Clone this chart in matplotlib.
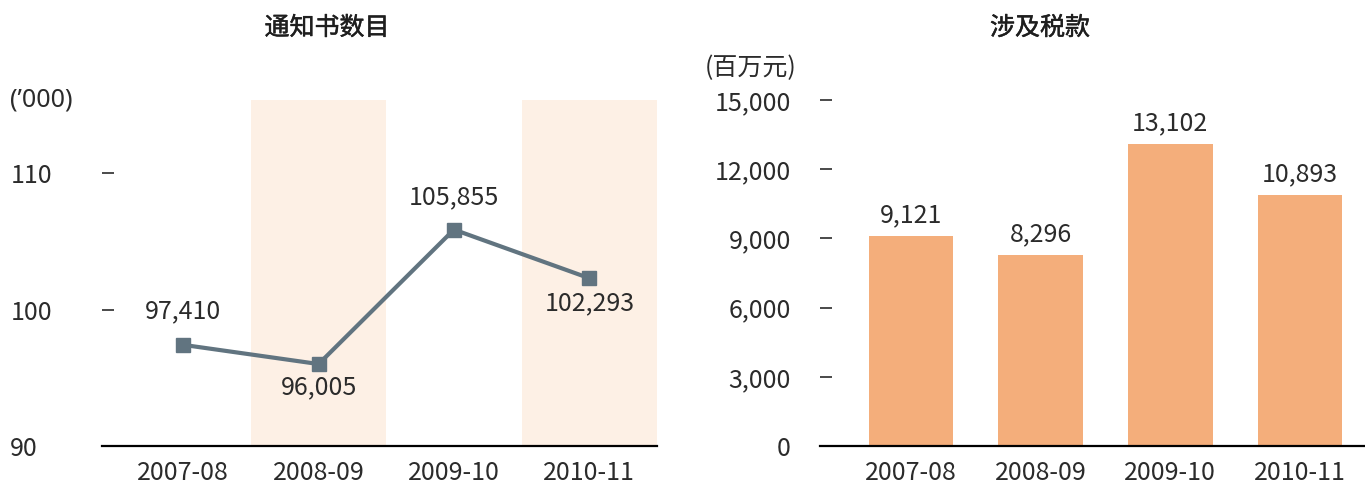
import numpy as np
import matplotlib.pyplot as plt
import matplotlib.patheffects as pe

plt.rcParams['font.family'] = ['Noto Sans CJK SC', 'DejaVu Sans']

#dati
anni = ['2007-08', '2008-09', '2009-10', '2010-11']
notifiche = [97.410, 96.005, 105.855, 102.293]   # migliaia
notifiche_lab = ['97,410', '96,005', '105,855', '102,293']
tasse = [9121, 8296, 13102, 10893]               # milioni
tasse_lab = ['9,121', '8,296', '13,102', '10,893']
yt_sx = [90, 100, 110]
yt_dx = [0, 3000, 6000, 9000, 12000, 15000]

testo = '#2b2b2b'
c_linea = '#617480'
c_barre = '#F4AE7B'
c_fascia = '#FDF0E5'
fs = 18
peso = 'light'

fig = plt.figure(figsize=(13.65, 4.86), dpi=100)
ax1 = fig.add_axes([102/1365, 40/486, 555/1365, 346/486])
ax2 = fig.add_axes([820/1365, 40/486, 545/1365, 346/486])

x = np.arange(len(anni))

#grafico sinistro: linea
ax1.axvspan(0.5, 1.5, color=c_fascia, lw=0, zorder=0)
ax1.axvspan(2.5, 3.5, color=c_fascia, lw=0, zorder=0)
ax1.plot(x, notifiche, color=c_linea, lw=3, marker='s', ms=10, zorder=3)
off = [24, -17, 23, -18]
for i in range(len(anni)):
    ax1.annotate(notifiche_lab[i], (x[i], notifiche[i]), xytext=(0, off[i]),
                 textcoords='offset points', ha='center', va='center',
                 fontsize=fs, fontweight=peso, color=testo)
ax1.set_xlim(-0.6, 3.5)
ax1.set_ylim(90, 115.35)
ax1.set_yticks(yt_sx)
ax1.set_yticklabels([str(v) for v in yt_sx])
ax1.tick_params(axis='y', direction='in', length=8.5, width=1.2, color=testo,
                pad=66, labelsize=fs, labelcolor=testo)
for t in ax1.get_yticklabels():
    t.set_horizontalalignment('left')

#grafico destro: barre
ax2.bar(x, tasse, width=0.65, color=c_barre, zorder=2)
for i in range(len(anni)):
    ax2.annotate(tasse_lab[i], (x[i], tasse[i]), xytext=(0, 15),
                 textcoords='offset points', ha='center', va='center',
                 fontsize=fs, fontweight=peso, color=testo)
ax2.set_xlim(-0.7, 3.5)
ax2.set_ylim(0, 15000)
ax2.set_yticks(yt_dx)
ax2.set_yticklabels(['{:,}'.format(v) for v in yt_dx])
ax2.tick_params(axis='y', direction='in', length=8.5, width=1.2, color=testo,
                pad=21, labelsize=fs, labelcolor=testo)

for ax in (ax1, ax2):
    ax.set_xticks(x)
    ax.set_xticklabels(anni)
    ax.tick_params(axis='x', length=0, pad=10, labelsize=fs, labelcolor=testo)
    for t in ax.get_xticklabels() + ax.get_yticklabels():
        t.set_fontweight(peso)
    for s in ['top', 'right', 'left']:
        ax.spines[s].set_visible(False)
    ax.spines['bottom'].set_linewidth(1.6)
    ax.spines['bottom'].set_color('black')
    ax.spines['bottom'].set_zorder(5)
    ax.set_facecolor('none')
    for t in ax.texts:
        t.set_clip_on(False)

#titoli e unità
spesso = [pe.withStroke(linewidth=0.35, foreground='#1e1e1e')]
fig.text(327/1365, 1 - 28/486, '通知书数目', ha='center', va='center',
         fontsize=18, color='#1e1e1e', path_effects=spesso)
fig.text(1040/1365, 1 - 28/486, '涉及税款', ha='center', va='center',
         fontsize=18, color='#1e1e1e', path_effects=spesso)
fig.text(10/1365, 1 - 100/486, "(\u2019000)", ha='left', va='center',
         fontsize=fs, fontweight=peso, color=testo,
         family=['Noto Sans', 'DejaVu Sans'])
fig.text(705/1365, 1 - 68/486, '(百万元)', ha='left', va='center',
         fontsize=fs, fontweight=peso, color=testo)

fig.savefig('out.png', dpi=100)
